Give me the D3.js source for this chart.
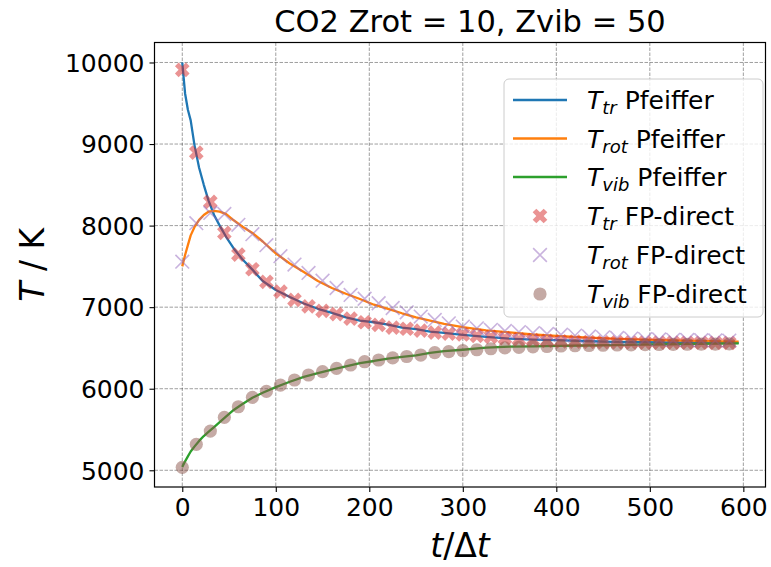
<!DOCTYPE html>
<html>
<head>
<meta charset="utf-8">
<script src="https://cdn.jsdelivr.net/npm/d3@7"></script>
<style>
  html, body { margin: 0; padding: 0; background: #fff; }
  svg { display: block; font-family: "DejaVu Sans", sans-serif; }
</style>
</head>
<body>
<svg id="chart" width="771" height="567"></svg>
<script>
// Pfeiffer model curves (sampled time steps)
const tLine = [0, 3, 6, 9, 13, 18, 23, 28, 34, 40, 47, 55, 64, 75, 86, 100, 115, 130, 145, 160,
  175, 190, 205, 220, 235, 250, 265, 280, 300, 325, 350, 375, 400, 430, 460, 490, 520, 550, 575, 595];
const trPfeiffer = [10000, 9620, 9420, 9290, 8990, 8710, 8500, 8310, 8130, 8000, 7860, 7720, 7590, 7460, 7320, 7210, 7125, 7045, 6980, 6930,
  6875, 6835, 6815, 6785, 6750, 6730, 6700, 6685, 6660, 6635, 6615, 6603, 6597, 6585, 6575, 6570, 6567, 6565, 6563, 6562];
const rotPfeiffer = [7500, 7640, 7760, 7880, 7980, 8070, 8130, 8170, 8180, 8172, 8140, 8065, 7990, 7910, 7805, 7660, 7535, 7430, 7320, 7235,
  7165, 7100, 7030, 6980, 6925, 6875, 6835, 6795, 6755, 6715, 6690, 6665, 6648, 6630, 6615, 6602, 6593, 6586, 6581, 6577];
const vibPfeiffer = [5040, 5110, 5170, 5230, 5290, 5360, 5420, 5470, 5530, 5590, 5660, 5740, 5810, 5890, 5950, 6020, 6085, 6145, 6190, 6235,
  6275, 6315, 6340, 6370, 6390, 6410, 6440, 6460, 6478, 6505, 6515, 6520, 6525, 6530, 6535, 6540, 6545, 6550, 6553, 6556];

// FP-direct samples, every 15 steps
const tMark = [0, 15, 30, 45, 60, 75, 90, 105, 120, 135, 150, 165, 180, 195, 210, 225, 240, 255, 270, 285,
  300, 315, 330, 345, 360, 375, 390, 405, 420, 435, 450, 465, 480, 495, 510, 525, 540, 555, 570, 585];
const trFP = [9910, 8895, 8290, 7910, 7645, 7465, 7310, 7190, 7090, 7010, 6955, 6915, 6860, 6815, 6782, 6750, 6735, 6712, 6688, 6675,
  6665, 6647, 6636, 6620, 6606, 6597, 6587, 6580, 6577, 6573, 6570, 6568, 6567, 6566, 6565, 6565, 6564, 6564, 6563, 6563];
const rotFP = [7558, 8030, 8155, 8142, 8010, 7895, 7760, 7625, 7522, 7420, 7325, 7235, 7150, 7103, 7048, 6990, 6937, 6885, 6843, 6802,
  6762, 6741, 6722, 6708, 6695, 6682, 6672, 6662, 6651, 6640, 6630, 6622, 6615, 6609, 6604, 6600, 6597, 6594, 6592, 6590];
const vibFP = [5036, 5318, 5481, 5649, 5779, 5894, 5968, 6045, 6107, 6168, 6209, 6250, 6291, 6331, 6352, 6378, 6395, 6413, 6442, 6454,
  6466, 6478, 6490, 6500, 6508, 6514, 6518, 6524, 6527, 6530, 6533, 6536, 6538, 6540, 6542, 6544, 6545, 6547, 6548, 6550];

const xTicks = [0, 100, 200, 300, 400, 500, 600];
const yTicks = [5000, 6000, 7000, 8000, 9000, 10000];

const svg = d3.select("#chart");
const axL = 154.5, axR = 765.5, axT = 42.5, axB = 487;

const x = d3.scaleLinear().domain([-29.7, 623.7]).range([axL, axR]);
const y = d3.scaleLinear().domain([4795, 10245]).range([axB, axT]);

// grid
const grid = svg.append("g");
grid.selectAll("line.gx").data(xTicks).join("line")
  .attr("x1", d => x(d)).attr("x2", d => x(d)).attr("y1", axT).attr("y2", axB)
  .attr("stroke", "#000").attr("stroke-opacity", 0.38).attr("stroke-width", 1)
  .attr("stroke-dasharray", "3.5,1.5");
grid.selectAll("line.gy").data(yTicks).join("line")
  .attr("y1", d => y(d)).attr("y2", d => y(d)).attr("x1", axL).attr("x2", axR)
  .attr("stroke", "#000").attr("stroke-opacity", 0.38).attr("stroke-width", 1)
  .attr("stroke-dasharray", "3.5,1.5");

// clip to axes
svg.append("clipPath").attr("id", "plotclip").append("rect")
  .attr("x", axL).attr("y", axT).attr("width", axR - axL).attr("height", axB - axT);
const plot = svg.append("g").attr("clip-path", "url(#plotclip)");

const colors = { tr: "#1f77b4", rot: "#ff7f0e", vib: "#2ca02c" };
const line = d3.line().x(d => x(d[0])).y(d => y(d[1]));
[[trPfeiffer, colors.tr], [rotPfeiffer, colors.rot], [vibPfeiffer, colors.vib]].forEach(([vals, c]) => {
  plot.append("path").datum(tLine.map((t, i) => [t, vals[i]]))
    .attr("d", line).attr("fill", "none").attr("stroke", c).attr("stroke-width", 2.3)
    .attr("stroke-linejoin", "round");
});

// marker shapes
const S = 7.2; // half-size of markers
function filledX(s) {
  const a = s / 3;
  const pts = [[-s, -a], [-s, a], [-a, a], [-a, s], [a, s], [a, a], [s, a], [s, -a], [a, -a], [a, -s], [-a, -s], [-a, -a]];
  const r = Math.PI / 4;
  return "M" + pts.map(([px, py]) => [px * Math.cos(r) - py * Math.sin(r), px * Math.sin(r) + py * Math.cos(r)]
    .map(v => v.toFixed(2)).join(",")).join("L") + "Z";
}
const xPath = `M${-S * 0.95},${-S * 0.95}L${S * 0.95},${S * 0.95}M${-S * 0.95},${S * 0.95}L${S * 0.95},${-S * 0.95}`;

function drawTr(g, cx, cy) {
  g.append("path").attr("d", filledX(S * 1.08)).attr("transform", `translate(${cx},${cy})`)
    .attr("fill", "#d62728").attr("fill-opacity", 0.5);
}
function drawRot(g, cx, cy) {
  g.append("path").attr("d", xPath).attr("transform", `translate(${cx},${cy})`)
    .attr("stroke", "#9467bd").attr("stroke-opacity", 0.5).attr("stroke-width", 1.6).attr("fill", "none");
}
function drawVib(g, cx, cy) {
  g.append("circle").attr("cx", cx).attr("cy", cy).attr("r", 6.6)
    .attr("fill", "#8c564b").attr("fill-opacity", 0.5);
}

const mk = plot.append("g");
tMark.forEach((t, i) => drawTr(mk, x(t), y(trFP[i])));
tMark.forEach((t, i) => drawRot(mk, x(t), y(rotFP[i])));
tMark.forEach((t, i) => drawVib(mk, x(t), y(vibFP[i])));

// axes
const xAxis = d3.axisBottom(x).tickValues(xTicks).tickSize(5).tickPadding(4).tickFormat(d3.format("d"));
const yAxis = d3.axisLeft(y).tickValues(yTicks).tickSize(5).tickPadding(5).tickFormat(d3.format("d"));
const gx = svg.append("g").attr("transform", `translate(0,${axB})`).call(xAxis);
const gy = svg.append("g").attr("transform", `translate(${axL},0)`).call(yAxis);
[gx, gy].forEach(g => {
  g.select(".domain").remove();
  g.selectAll(".tick line").attr("stroke", "#000").attr("stroke-width", 1.1);
  g.selectAll(".tick text").attr("fill", "#000").style("font-size", "25px")
    .style("font-family", "DejaVu Sans, sans-serif");
});
gx.selectAll(".tick text").attr("dy", "0.8em");
gy.selectAll(".tick text").attr("dy", "0.35em");

svg.append("rect").attr("x", axL).attr("y", axT).attr("width", axR - axL).attr("height", axB - axT)
  .attr("fill", "none").attr("stroke", "#000").attr("stroke-width", 1.2);

// title and axis labels
svg.append("text").attr("x", (axL + axR) / 2 + 10).attr("y", 32).attr("text-anchor", "middle")
  .style("font-size", "30.5px").text("CO2 Zrot = 10, Zvib = 50");

const xl = svg.append("text").attr("x", (axL + axR) / 2).attr("y", 557).attr("text-anchor", "middle")
  .style("font-size", "33px");
xl.append("tspan").style("font-style", "italic").text("t");
xl.append("tspan").text("/Δ");
xl.append("tspan").style("font-style", "italic").text("t");

const yl = svg.append("text").attr("transform", `translate(44,${(axT + axB) / 2}) rotate(-90)`)
  .attr("text-anchor", "middle").style("font-size", "33px");
yl.append("tspan").style("font-style", "italic").text("T");
yl.append("tspan").text(" / K");

// legend
const lg = svg.append("g");
lg.append("rect").attr("x", 504).attr("y", 79).attr("width", 259).attr("height", 238).attr("rx", 5)
  .attr("fill", "#fff").attr("fill-opacity", 0.8).attr("stroke", "#ccc").attr("stroke-width", 1);

const entries = [
  { sub: "tr", label: " Pfeiffer", kind: "line", c: colors.tr },
  { sub: "rot", label: " Pfeiffer", kind: "line", c: colors.rot },
  { sub: "vib", label: " Pfeiffer", kind: "line", c: colors.vib },
  { sub: "tr", label: " FP-direct", kind: "tr" },
  { sub: "rot", label: " FP-direct", kind: "rot" },
  { sub: "vib", label: " FP-direct", kind: "vib" }
];
const rowY = [100, 138.5, 177, 216, 255, 294];
entries.forEach((e, i) => {
  const cy = rowY[i];
  if (e.kind === "line") {
    lg.append("line").attr("x1", 513).attr("x2", 567).attr("y1", cy).attr("y2", cy)
      .attr("stroke", e.c).attr("stroke-width", 2.3);
  } else if (e.kind === "tr") drawTr(lg, 540, cy);
  else if (e.kind === "rot") drawRot(lg, 540, cy);
  else drawVib(lg, 540, cy);
  const t = lg.append("text").attr("x", 587).attr("y", cy + 9).style("font-size", "25px");
  t.append("tspan").style("font-style", "italic").text("T");
  t.append("tspan").style("font-style", "italic").style("font-size", "18px").attr("dy", 5).text(e.sub);
  t.append("tspan").attr("dy", -5).text(e.label);
});
</script>
</body>
</html>
